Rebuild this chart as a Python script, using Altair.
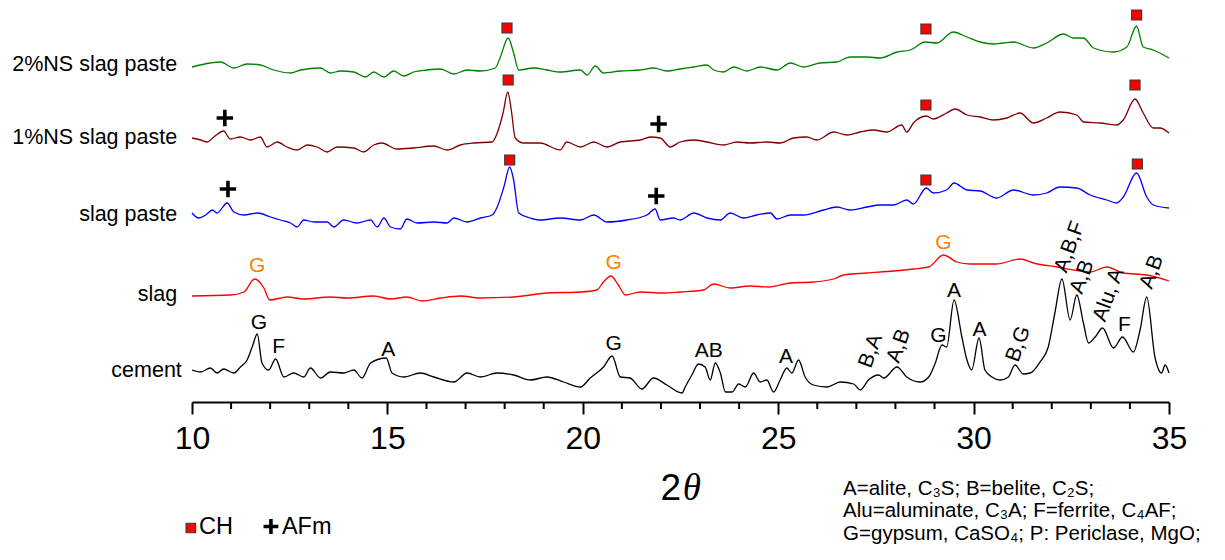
import altair as alt
import pandas as pd

# ---------------- traces: 2theta (deg) and stacked intensity (a.u.) ----------------
x_2ns = [10.00, 10.47, 10.73, 11.07, 11.41, 11.75, 12.09, 12.52, 12.78, 13.29, 13.54, 13.80, 14.14, 14.44, 14.65,
         14.91, 15.16, 15.42, 15.67, 16.01, 16.36, 16.70, 17.04, 17.38, 17.76, 17.89, 18.09, 18.23, 18.36, 18.74,
         19.08, 19.42, 19.94, 20.11, 20.32, 20.53, 20.96, 21.47, 21.81, 22.15, 22.49, 22.84, 23.18, 23.35, 23.60,
         23.86, 24.20, 24.54, 24.97, 25.31, 25.65, 26.07, 26.50, 26.84, 27.27, 27.61, 28.04, 28.38, 28.76, 29.06,
         29.48, 29.83, 30.17, 30.51, 30.76, 31.02, 31.53, 31.87, 32.30, 32.55, 32.81, 33.07, 33.58, 33.92, 34.17,
         34.34, 34.60, 34.86, 35.00]
y_2ns = [335, 339, 340, 334, 338, 337, 332, 329, 332, 334, 329, 331, 330, 325, 330,
         325, 331, 326, 330, 332, 333, 328, 332, 331, 334, 345, 364, 349, 332, 334,
         332, 330, 332, 327, 336, 329, 331, 332, 334, 331, 333, 335, 337, 332, 330,
         335, 331, 335, 332, 339, 335, 339, 340, 345, 345, 344, 350, 352, 360, 359,
         370, 365, 360, 358, 359, 360, 354, 359, 368, 364, 364, 354, 350, 355, 376,
         355, 352, 347, 344]

x_1ns = [10.00, 10.22, 10.39, 10.56, 10.81, 10.98, 11.24, 11.50, 11.75, 11.92, 12.18, 12.43, 12.69, 12.95, 13.20,
         13.46, 13.71, 14.14, 14.39, 14.65, 14.86, 15.24, 15.67, 16.19, 16.53, 16.87, 17.21, 17.68, 17.81, 17.96,
         18.08, 18.17, 18.27, 18.49, 18.91, 19.42, 19.59, 19.94, 20.28, 20.62, 20.96, 21.47, 21.73, 21.98, 22.24,
         22.49, 22.84, 23.18, 23.60, 23.94, 24.28, 24.71, 25.05, 25.39, 25.73, 25.99, 26.42, 26.76, 27.10, 27.44,
         27.78, 28.16, 28.29, 28.46, 28.79, 28.97, 29.31, 29.53, 29.83, 30.17, 30.51, 30.85, 31.19, 31.53, 31.87,
         32.21, 32.64, 32.81, 33.24, 33.66, 33.83, 34.13, 34.34, 34.60, 34.77, 35.00]
y_1ns = [264, 262, 260, 265, 271, 263, 265, 262, 265, 255, 260, 255, 252, 257, 255,
         250, 255, 254, 250, 257, 259, 253, 254, 256, 252, 257, 259, 260, 269, 289,
         310, 292, 264, 259, 259, 252, 260, 255, 260, 255, 260, 262, 265, 264, 255,
         260, 262, 260, 257, 260, 259, 260, 259, 264, 265, 262, 270, 267, 270, 272,
         270, 277, 270, 279, 286, 283, 289, 293, 287, 285, 282, 284, 289, 279, 284,
         290, 287, 280, 279, 277, 282, 303, 289, 274, 274, 269]

x_sp = [10.00, 10.17, 10.35, 10.52, 10.64, 10.90, 11.07, 11.33, 11.67, 12.01, 12.26, 12.52, 12.69, 12.86, 13.12,
        13.46, 13.63, 13.88, 14.22, 14.57, 14.74, 14.91, 15.08, 15.33, 15.50, 15.76, 16.19, 16.53, 16.70, 17.04,
        17.38, 17.68, 17.81, 17.98, 18.13, 18.23, 18.36, 18.66, 18.91, 19.42, 19.94, 20.28, 20.62, 21.13, 21.64,
        21.85, 21.98, 22.32, 22.49, 22.84, 23.18, 23.52, 23.77, 24.11, 24.45, 24.80, 24.97, 25.31, 25.65, 26.16,
        26.50, 26.84, 27.27, 27.61, 27.95, 28.29, 28.46, 28.79, 28.97, 29.31, 29.50, 29.83, 30.17, 30.59, 31.02,
        31.53, 31.87, 32.21, 32.64, 32.98, 33.41, 33.66, 33.83, 34.17, 34.43, 34.60, 35.00]
y_sp = [189, 184, 187, 192, 189, 199, 190, 187, 189, 185, 182, 179, 175, 182, 180,
        180, 175, 182, 179, 182, 175, 184, 175, 173, 183, 179, 180, 179, 184, 180,
        184, 187, 195, 215, 235, 222, 189, 184, 182, 184, 182, 187, 180, 182, 187,
        193, 182, 184, 182, 189, 184, 182, 189, 184, 187, 189, 183, 187, 187, 192,
        195, 192, 195, 197, 197, 202, 198, 214, 209, 212, 219, 212, 211, 204, 212,
        207, 209, 215, 214, 207, 202, 199, 205, 229, 205, 197, 194]

x_slag = [10.00, 10.98, 11.33, 11.60, 11.84, 11.99, 12.43, 12.86, 13.54, 13.97, 14.65, 15.08, 15.50, 15.89, 16.36,
          16.87, 17.38, 18.23, 19.08, 19.94, 20.36, 20.53, 20.72, 20.91, 21.09, 21.47, 22.07, 22.49, 23.09, 23.35,
          23.77, 24.28, 24.75, 25.31, 25.90, 26.42, 26.67, 27.27, 27.95, 28.46, 28.85, 29.23, 29.57, 29.91, 30.59,
          31.19, 31.53, 32.13, 32.98, 33.41, 33.83, 34.43, 35.00]
y_slag = [106, 107, 110, 123, 114, 102, 105, 103, 105, 104, 106, 103, 105, 101, 104,
          106, 104, 105, 109, 110, 112, 120, 126, 117, 107, 110, 109, 110, 112, 118,
          114, 116, 115, 119, 120, 123, 127, 129, 131, 133, 135, 147, 140, 138, 138,
          143, 139, 135, 130, 135, 129, 127, 121]

x_cem = [10.00, 10.22, 10.47, 10.64, 10.81, 11.07, 11.24, 11.41, 11.54, 11.67, 11.79, 11.96, 12.14, 12.35, 12.60,
         12.86, 13.03, 13.29, 13.54, 13.88, 14.14, 14.35, 14.57, 14.97, 15.12, 15.42, 15.84, 16.19, 16.70, 17.04,
         17.38, 17.80, 18.23, 18.66, 19.08, 19.51, 19.94, 20.19, 20.53, 20.75, 20.96, 21.21, 21.51, 21.81, 22.15,
         22.54, 22.62, 22.79, 22.96, 23.13, 23.26, 23.39, 23.52, 23.65, 23.82, 23.99, 24.16, 24.37, 24.54, 24.71,
         24.88, 25.05, 25.22, 25.35, 25.52, 25.69, 25.90, 26.25, 26.59, 26.93, 27.10, 27.31, 27.57, 27.70, 28.04,
         28.29, 28.63, 28.85, 29.02, 29.19, 29.31, 29.50, 29.70, 29.83, 29.95, 30.14, 30.29, 30.47, 30.68, 30.89,
         31.06, 31.27, 31.45, 31.70, 31.91, 32.08, 32.26, 32.47, 32.64, 32.81, 32.94, 33.11, 33.30, 33.58, 33.81,
         34.09, 34.26, 34.43, 34.64, 34.81, 34.90, 35.00]
y_cem = [32, 30, 34, 29, 33, 29, 35, 42, 55, 68, 39, 32, 43, 25, 29,
         25, 34, 24, 30, 29, 32, 24, 39, 44, 29, 25, 29, 25, 20, 29,
         25, 29, 27, 22, 25, 20, 15, 24, 35, 46, 25, 24, 13, 24, 17,
         9, 15, 27, 38, 35, 22, 39, 29, 10, 10, 18, 15, 29, 20, 22,
         10, 22, 34, 29, 42, 25, 17, 15, 20, 18, 12, 22, 27, 24, 35,
         25, 20, 25, 39, 57, 55, 102, 65, 42, 32, 64, 32, 25, 22, 25,
         37, 28, 29, 40, 55, 89, 123, 82, 107, 79, 59, 65, 74, 54, 65,
         50, 72, 105, 45, 29, 37, 29]

series_names = ["2%NS slag paste", "1%NS slag paste", "slag paste", "slag", "cement"]
series_colors = ["#008000", "#800000", "#0000FF", "#FF0000", "#000000"]
series_label_x = [9.62, 9.62, 9.62, 9.62, 9.74]
series_label_y = [337, 264, 187, 107, 31]

# CH and AFm markers
ch_x = [18.06, 18.09, 18.13, 28.78, 28.78, 28.78, 34.17, 34.13, 34.19]
ch_y = [374, 322, 242, 373, 297, 222, 387, 317, 238]
afm_x = [10.84, 21.94, 10.92, 21.88]
afm_y = [284, 278, 213, 206]

# peak labels
peak_text = ["G", "F", "A", "G", "AB", "A", "B,A", "A,B", "G", "A", "A", "B,G",
             "A,B,F", "A,B", "Alu, A", "F", "A,B", "G", "G", "G"]
peak_x = [11.71, 12.22, 15.02, 20.79, 23.22, 25.20, 27.37, 28.09, 29.10, 29.50, 30.15, 31.15,
          32.46, 32.78, 33.46, 33.86, 34.56, 11.67, 20.79, 29.23]
peak_y = [79, 55, 52, 58, 51, 45, 51, 56, 66, 111, 72, 58,
          155, 125, 107, 77, 130, 136, 139, 159]
peak_angle = [0, 0, 0, 0, 0, 0, 290, 290, 0, 0, 0, 290,
              290, 290, 290, 0, 290, 0, 0, 0]
peak_color = ["#000000"] * 17 + ["#FF8000"] * 3

# legend and notes
legend_text = ["CH", "AFm"]
legend_text_x = [10.18, 12.30]
legend_text_y = [-125, -125]
legend_ch_x = [9.97]
legend_ch_y = [-126]
legend_afm_x = [12.02]
legend_afm_y = [-124.5]

note_lines = ["A=alite, C\u2083S; B=belite, C\u2082S;",
              "Alu=aluminate, C\u2083A; F=ferrite, C\u2084AF;",
              "G=gypsum, CaSO\u2084; P: Periclase, MgO;"]
note_x = [26.66, 26.66, 26.66]
note_y = [-93, -115, -138]

major_ticks = [10, 15, 20, 25, 30, 35]
minor_ticks = [11, 12, 13, 14, 16, 17, 18, 19, 21, 22, 23, 24, 26, 27, 28, 29, 31, 32, 33, 34]

# ---------------- build tables ----------------
frames = []
for name, xs, ys in zip(series_names, [x_2ns, x_1ns, x_sp, x_slag, x_cem], [y_2ns, y_1ns, y_sp, y_slag, y_cem]):
    d = pd.DataFrame({"x": xs, "y": ys})
    d["series"] = name
    frames.append(d)
traces = pd.concat(frames, ignore_index=True)

labels_df = pd.DataFrame({"x": series_label_x, "y": series_label_y, "t": series_names})
ch_df = pd.DataFrame({"x": ch_x, "y": ch_y})
afm_df = pd.DataFrame({"x": afm_x, "y": afm_y})
peaks_df = pd.DataFrame({"x": peak_x, "y": peak_y, "t": peak_text, "a": peak_angle, "c": peak_color})
leg_txt_df = pd.DataFrame({"x": legend_text_x, "y": legend_text_y, "t": legend_text})
leg_ch_df = pd.DataFrame({"x": legend_ch_x, "y": legend_ch_y})
leg_afm_df = pd.DataFrame({"x": legend_afm_x, "y": legend_afm_y})
notes_df = pd.DataFrame({"x": note_x, "y": note_y, "t": note_lines})
minor_df = pd.DataFrame({"x": minor_ticks})
two_df = pd.DataFrame({"x": [21.99], "y": [-98], "t": ["2"]})
theta_df = pd.DataFrame({"x": [22.56], "y": [-98], "t": ["\u03b8"]})

FONT = "Liberation Sans, Arial, Helvetica, sans-serif"
xscale = alt.Scale(domain=[10, 35], nice=False, zero=False)
yscale = alt.Scale(domain=[0, 394], nice=False, zero=False)
main_axis = alt.Axis(values=major_ticks, title=None, grid=False, tickSize=12, tickWidth=2, tickColor="black",
                     domainColor="black", domainWidth=2, labelFontSize=32, labelFont=FONT, labelColor="black",
                     labelPadding=9, labelFlush=False, format="d")

X = alt.X("x:Q", scale=xscale, axis=main_axis)
Y = alt.Y("y:Q", scale=yscale, axis=None)

lines = alt.Chart(traces).mark_line(strokeWidth=1.3, interpolate="monotone").encode(
    x=X, y=Y,
    color=alt.Color("series:N", scale=alt.Scale(domain=series_names, range=series_colors), legend=None),
    detail="series:N",
    order="x:Q",
)

minor = alt.Chart(minor_df).mark_rule(color="black", strokeWidth=2).encode(
    x=X, y=alt.value(394), y2=alt.value(401)
)

ch = alt.Chart(ch_df).mark_point(shape="square", filled=True, fill="#FF0000", stroke="#3a3a3a",
                                 strokeWidth=1.2, size=100, opacity=1).encode(x=X, y=Y)
plus_path = "M-1,0L1,0M0,-1L0,1"
afm = alt.Chart(afm_df).mark_point(shape=plus_path, filled=False, color="black", strokeWidth=3.6,
                                   size=270, opacity=1).encode(x=X, y=Y)

series_text = alt.Chart(labels_df).mark_text(align="right", baseline="middle", fontSize=21.5, font=FONT,
                                             color="black").encode(x=X, y=Y, text="t:N")

peaks = alt.Chart(peaks_df).mark_text(align="center", baseline="middle", fontSize=21, font=FONT).encode(
    x=X, y=Y, text="t:N", angle=alt.Angle("a:Q", scale=None), color=alt.Color("c:N", scale=None)
)

leg_ch = alt.Chart(leg_ch_df).mark_point(shape="square", filled=True, fill="#FF0000", stroke="#3a3a3a",
                                         strokeWidth=1.2, size=90, opacity=1).encode(x=X, y=Y)
leg_afm = alt.Chart(leg_afm_df).mark_point(shape=plus_path, filled=False, color="black", strokeWidth=3.6,
                                           size=220, opacity=1).encode(x=X, y=Y)
leg_txt = alt.Chart(leg_txt_df).mark_text(align="left", baseline="middle", fontSize=23.5, font=FONT,
                                          color="black").encode(x=X, y=Y, text="t:N")

notes = alt.Chart(notes_df).mark_text(align="left", baseline="alphabetic", fontSize=20.5, font=FONT,
                                      color="black").encode(x=X, y=Y, text="t:N")

two = alt.Chart(two_df).mark_text(align="left", baseline="alphabetic", fontSize=37, font=FONT,
                                  color="black").encode(x=X, y=Y, text="t:N")
theta = alt.Chart(theta_df).mark_text(align="left", baseline="alphabetic", fontSize=37,
                                      font="Liberation Serif, Times New Roman, serif", fontStyle="italic",
                                      color="black").encode(x=X, y=Y, text="t:N")

chart = alt.layer(
    lines, minor, ch, afm, series_text, peaks, leg_ch, leg_afm, leg_txt, notes, two, theta
).properties(
    width=977, height=394,
    padding={"left": 184, "top": 0, "right": 46, "bottom": 150},
    autosize=alt.AutoSizeParams(type="none"),
    background="white",
).configure_view(stroke=None)

chart.save("out.html", embed_options={"renderer": "svg", "actions": False})
